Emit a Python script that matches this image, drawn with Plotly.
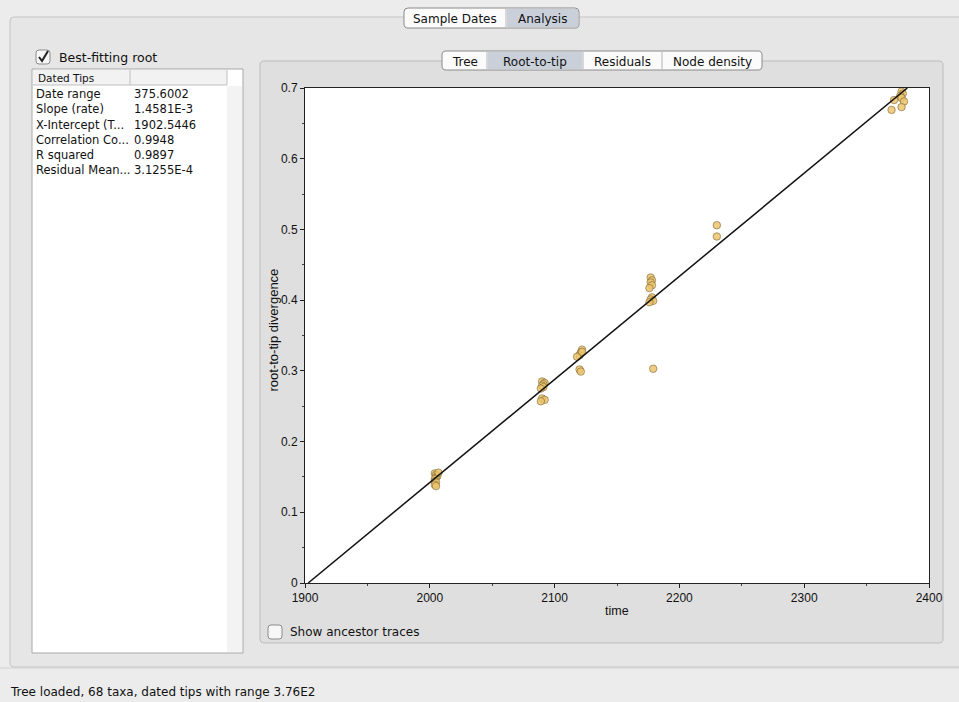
import plotly.graph_objects as go

# ---------------- data ----------------
stat_labels = ["Date range", "Slope (rate)", "X-Intercept (T...", "Correlation Co...", "R squared", "Residual Mean..."]
stat_values = ["375.6002", "1.4581E-3", "1902.5446", "0.9948", "0.9897", "3.1255E-4"]
slope = 1.4581e-3
x_intercept = 1902.5446

tip_dates = [
    2004, 2005, 2006, 2005, 2004, 2004, 2005, 2004, 2005, 2007,
    2090, 2092, 2091, 2090, 2091, 2089, 2090, 2092, 2089,
    2122, 2121, 2120, 2118, 2120, 2121, 2122,
    2177, 2178, 2177, 2178, 2176, 2178, 2177, 2179, 2176, 2179,
    2230, 2230,
    2378, 2379, 2377, 2378, 2372, 2380, 2370, 2378,
]
tip_divergence = [
    0.155, 0.153, 0.151, 0.149, 0.147, 0.144, 0.142, 0.139, 0.137, 0.156,
    0.285, 0.283, 0.281, 0.279, 0.277, 0.275, 0.261, 0.259, 0.257,
    0.330, 0.326, 0.322, 0.320, 0.302, 0.299, 0.327,
    0.432, 0.428, 0.425, 0.421, 0.417, 0.404, 0.401, 0.399, 0.397, 0.303,
    0.506, 0.490,
    0.695, 0.692, 0.689, 0.686, 0.683, 0.681, 0.669, 0.673,
]
x_ticks = [1900, 2000, 2100, 2200, 2300, 2400]
y_ticks = [0, 0.1, 0.2, 0.3, 0.4, 0.5, 0.6, 0.7]
y_top = 0.7

# ---------------- helpers ----------------
W, H = 959, 702
UI_FONT = "DejaVu Sans"
AX_FONT = "Liberation Sans"


def fx(x):
    return x / W


def fy(y):
    return 1 - y / H


shapes = []
annotations = []


def rect(x0, y0, x1, y1, fill, line="rgba(0,0,0,0)", lw=1):
    shapes.append(dict(type="rect", xref="paper", yref="paper",
                       x0=fx(x0), x1=fx(x1), y0=fy(y1), y1=fy(y0),
                       fillcolor=fill, line=dict(color=line, width=lw), layer="below"))


def rrect(x0, y0, x1, y1, r, fill, line, lw=1):
    def p(x, y):
        return f"{fx(x):.5f},{fy(y):.5f}"
    path = (f"M {p(x0 + r, y0)} L {p(x1 - r, y0)} Q {p(x1, y0)} {p(x1, y0 + r)} "
            f"L {p(x1, y1 - r)} Q {p(x1, y1)} {p(x1 - r, y1)} "
            f"L {p(x0 + r, y1)} Q {p(x0, y1)} {p(x0, y1 - r)} "
            f"L {p(x0, y0 + r)} Q {p(x0, y0)} {p(x0 + r, y0)} Z")
    shapes.append(dict(type="path", xref="paper", yref="paper", path=path,
                       fillcolor=fill, line=dict(color=line, width=lw), layer="below"))


def hline(x0, x1, y, color, lw=1):
    shapes.append(dict(type="line", xref="paper", yref="paper",
                       x0=fx(x0), x1=fx(x1), y0=fy(y), y1=fy(y),
                       line=dict(color=color, width=lw), layer="below"))


def vline(x, y0, y1, color, lw=1):
    shapes.append(dict(type="line", xref="paper", yref="paper",
                       x0=fx(x), x1=fx(x), y0=fy(y0), y1=fy(y1),
                       line=dict(color=color, width=lw), layer="below"))


def text(x, y, s, size=12, anchor="left", color="#111111", family=UI_FONT, angle=0):
    annotations.append(dict(x=fx(x), y=fy(y), xref="paper", yref="paper", text=s,
                            showarrow=False, xanchor=anchor, yanchor="middle",
                            textangle=angle,
                            font=dict(family=family, size=size, color=color)))


def tabs(x0, y0, y1, items, selected):
    total = sum(w for _, w in items)
    rrect(x0, y0, x0 + total, y1, 4, "#fbfbfb", "#8a8a8a")
    cx = x0
    for i, (lab, w) in enumerate(items):
        if i == selected:
            rect(cx + 1, y0 + 1, cx + w - 1, y1 - 1, "#c9d0da")
        if i > 0:
            vline(cx, y0 + 1, y1 - 1, "#b4b4b4")
        text(cx + w / 2, (y0 + y1) / 2 + 1, lab, size=12, anchor="center")
        cx += w


def checkbox(x, y, checked):
    rrect(x, y, x + 14, y + 14, 3, "#f7f7f7", "#8c8c8c")
    if checked:
        path = (f"M {fx(x + 3):.5f},{fy(y + 7):.5f} L {fx(x + 6):.5f},{fy(y + 11):.5f} "
                f"L {fx(x + 12):.5f},{fy(y + 1):.5f}")
        shapes.append(dict(type="path", xref="paper", yref="paper", path=path,
                           line=dict(color="#222222", width=2), layer="below"))


# ---------------- window chrome ----------------
rect(0, 0, W, H, "#ececec")
rrect(10, 17, W + 5, 667, 4, "#e6e6e6", "#c4c4c4")
hline(0, W, 668, "#cfcfcf")
text(8, 692, "Tree loaded, 68 taxa, dated tips with range 3.76E2", size=12)

tabs(404, 8, 28, [("Sample Dates", 102), ("Analysis", 73)], 1)

checkbox(36, 50, True)
text(57, 58, "Best-fitting root", size=12.5)
rect(32, 69, 243, 653, "#ffffff", "#a8a8a8")
rect(33, 70, 227, 85, "#f2f2f2")
hline(33, 227, 85, "#c0c0c0")
vline(130, 70, 85, "#c0c0c0")
vline(227, 70, 85, "#c0c0c0")
rect(227, 86, 242, 652, "#f3f3f3")
text(36, 78, "Dated Tips", size=10.5)
row_y0, row_dy = 94, 15.3
for i, (lab, val) in enumerate(zip(stat_labels, stat_values)):
    ry = row_y0 + i * row_dy
    text(34, ry, lab, size=11.5)
    text(132, ry, val, size=11.5)

rrect(260, 61, 943, 643, 4, "#dfdfdf", "#bdbdbd")
tabs(442, 51, 70, [("Tree", 45), ("Root-to-tip", 96), ("Residuals", 79), ("Node density", 100)], 1)

PL, PR, PT, PB = 305, 929, 88, 583
rect(PL, PT, PR, PB, "#ffffff")

checkbox(268, 625, False)
text(288, 632, "Show ancestor traces", size=12)

text((PL + PR) / 2, 611, "time", size=12.5, anchor="center", family=AX_FONT)
text(273, (PT + PB) / 2 - 5, "root-to-tip divergence", size=13, anchor="center",
     family=AX_FONT, angle=-90)

# ---------------- traces ----------------
line_x = [x_intercept, x_intercept + y_top / slope]
line_y = [0, y_top]

fig = go.Figure()
fig.add_trace(go.Scatter(
    x=tip_dates, y=tip_divergence, mode="markers",
    marker=dict(size=7.5, color="rgba(236,196,108,0.85)",
                line=dict(color="rgba(120,100,55,0.75)", width=0.8)),
    hoverinfo="skip"))
fig.add_trace(go.Scatter(
    x=line_x, y=line_y, mode="lines",
    line=dict(color="#111111", width=1.5), hoverinfo="skip"))

fig.update_layout(
    width=W, height=H, autosize=False,
    margin=dict(l=0, r=0, t=0, b=0, pad=0, autoexpand=False),
    paper_bgcolor="#ececec",
    plot_bgcolor="rgba(0,0,0,0)",
    showlegend=False,
    shapes=shapes,
    annotations=annotations,
    xaxis=dict(domain=[fx(PL), fx(PR)], range=[1900, 2400], tickvals=x_ticks,
               automargin=False,
               ticks="outside", ticklen=4, tickcolor="#222", showgrid=False,
               zeroline=False, showline=True, linecolor="#222", linewidth=1, mirror=True,
               minor=dict(dtick=50, ticks="outside", ticklen=2, tickcolor="#444", showgrid=False),
               tickfont=dict(family=AX_FONT, size=12, color="#111")),
    yaxis=dict(domain=[fy(PB), fy(PT)], range=[0, y_top], tickvals=y_ticks,
               automargin=False,
               ticks="outside", ticklen=4, tickcolor="#222", showgrid=False,
               zeroline=False, showline=True, linecolor="#222", linewidth=1, mirror=True,
               minor=dict(dtick=0.05, ticks="outside", ticklen=2, tickcolor="#444", showgrid=False),
               tickfont=dict(family=AX_FONT, size=12, color="#111")),
)

fig.write_html("out.html", config={"responsive": False, "displayModeBar": False},
               post_script="document.body.style.margin='0';document.body.style.overflow='hidden';")
